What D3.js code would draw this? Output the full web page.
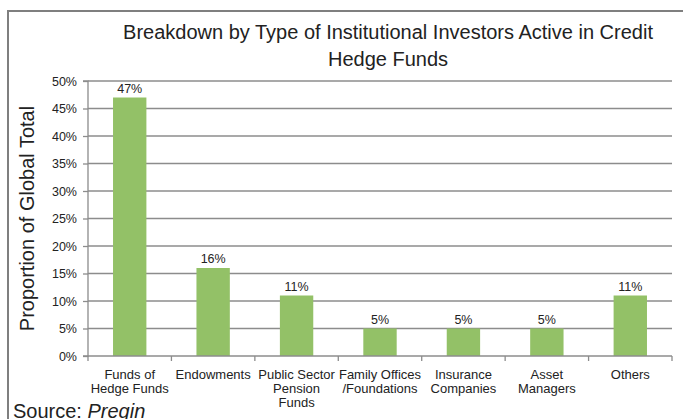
<!DOCTYPE html>
<html>
<head>
<meta charset="utf-8">
<script src="https://cdn.jsdelivr.net/npm/d3@7"></script>
<style>
  body { margin: 0; background: #fff; }
  svg { display: block; font-family: "Liberation Sans", Arial, sans-serif; }
</style>
</head>
<body>
<svg id="chart" width="683" height="419"></svg>
<script>
// categories, one line of label per array entry
var categories = [
  ["Funds of", "Hedge Funds"],
  ["Endowments"],
  ["Public Sector", "Pension", "Funds"],
  ["Family Offices", "/Foundations"],
  ["Insurance", "Companies"],
  ["Asset", "Managers"],
  ["Others"]
];
var values = [47, 16, 11, 5, 5, 5, 11];
var yTicks = [0, 5, 10, 15, 20, 25, 30, 35, 40, 45, 50];

var svg = d3.select("#chart");

// outer frame (only top and left edges visible)
svg.append("path")
  .attr("d", "M8,419 L8,11 L683,11")
  .attr("fill", "none")
  .attr("stroke", "#7f7f7f")
  .attr("stroke-width", 2);

var plotLeft = 88, plotRight = 672, plotTop = 81, plotBottom = 356;

var x = d3.scaleBand()
  .domain(d3.range(categories.length))
  .range([plotLeft, plotRight])
  .paddingInner(0.6)
  .paddingOuter(0.3);

var y = d3.scaleLinear().domain([0, 50]).range([plotBottom, plotTop]);

// gridlines
svg.append("g")
  .selectAll("line")
  .data(yTicks.slice(1))
  .enter().append("line")
  .attr("x1", plotLeft).attr("x2", plotRight)
  .attr("y1", function (d) { return y(d); })
  .attr("y2", function (d) { return y(d); })
  .attr("stroke", "#8c8c8c")
  .attr("stroke-width", 1.3);

// bars
svg.append("g")
  .selectAll("rect")
  .data(values)
  .enter().append("rect")
  .attr("x", function (d, i) { return x(i); })
  .attr("width", x.bandwidth())
  .attr("y", function (d) { return y(d); })
  .attr("height", function (d) { return y(0) - y(d); })
  .attr("fill", "#93c167");

// value labels
svg.append("g")
  .selectAll("text")
  .data(values)
  .enter().append("text")
  .attr("x", function (d, i) { return x(i) + x.bandwidth() / 2; })
  .attr("y", function (d) { return y(d) - 5; })
  .attr("text-anchor", "middle")
  .attr("font-size", 12.5)
  .attr("fill", "#222")
  .text(function (d) { return d + "%"; });

// y axis
var yAxis = d3.axisLeft(y)
  .tickValues(yTicks)
  .tickSize(5)
  .tickPadding(6)
  .tickFormat(function (d) { return d + "%"; });
var gy = svg.append("g")
  .attr("transform", "translate(" + plotLeft + ",0)")
  .call(yAxis);
gy.select(".domain").attr("stroke", "#8c8c8c").attr("stroke-width", 1.3)
  .attr("d", "M-5," + plotTop + "H0V" + plotBottom + "H-5");
gy.selectAll(".tick line").attr("stroke", "#8c8c8c").attr("stroke-width", 1.3);
gy.selectAll(".tick text").attr("font-size", 12.5).attr("fill", "#222")
  .attr("font-family", "Liberation Sans, Arial, sans-serif");

// x axis line and category boundary ticks
var bounds = d3.range(categories.length + 1).map(function (i) {
  return plotLeft + i * (plotRight - plotLeft) / categories.length;
});
svg.append("line")
  .attr("x1", plotLeft).attr("x2", plotRight)
  .attr("y1", plotBottom).attr("y2", plotBottom)
  .attr("stroke", "#8c8c8c").attr("stroke-width", 1.3);
svg.append("g")
  .selectAll("line")
  .data(bounds)
  .enter().append("line")
  .attr("x1", function (d) { return d; }).attr("x2", function (d) { return d; })
  .attr("y1", plotBottom).attr("y2", plotBottom + 5)
  .attr("stroke", "#8c8c8c").attr("stroke-width", 1.3);

// category labels
var cat = svg.append("g")
  .selectAll("text")
  .data(categories)
  .enter().append("text")
  .attr("text-anchor", "middle")
  .attr("font-size", 13)
  .attr("fill", "#222")
  .attr("transform", function (d, i) {
    return "translate(" + (x(i) + x.bandwidth() / 2) + "," + (plotBottom + 23) + ")";
  });
cat.selectAll("tspan")
  .data(function (d) { return d; })
  .enter().append("tspan")
  .attr("x", 0)
  .attr("dy", function (d, i) { return i === 0 ? 0 : 14; })
  .text(function (d) { return d; });

// title
svg.append("text")
  .attr("x", 388).attr("y", 39)
  .attr("text-anchor", "middle")
  .attr("font-size", 20)
  .attr("fill", "#222")
  .text("Breakdown by Type of Institutional Investors Active in Credit");
svg.append("text")
  .attr("x", 388).attr("y", 66)
  .attr("text-anchor", "middle")
  .attr("font-size", 20)
  .attr("fill", "#222")
  .text("Hedge Funds");

// y axis title
svg.append("text")
  .attr("transform", "translate(34," + ((plotTop + plotBottom) / 2) + ") rotate(-90)")
  .attr("text-anchor", "middle")
  .attr("font-size", 20)
  .attr("fill", "#222")
  .text("Proportion of Global Total");

// source
var src = svg.append("text")
  .attr("x", 13).attr("y", 418)
  .attr("font-size", 20)
  .attr("fill", "#222");
src.append("tspan").text("Source: ");
src.append("tspan").attr("font-style", "italic").text("Preqin");
</script>
</body>
</html>
